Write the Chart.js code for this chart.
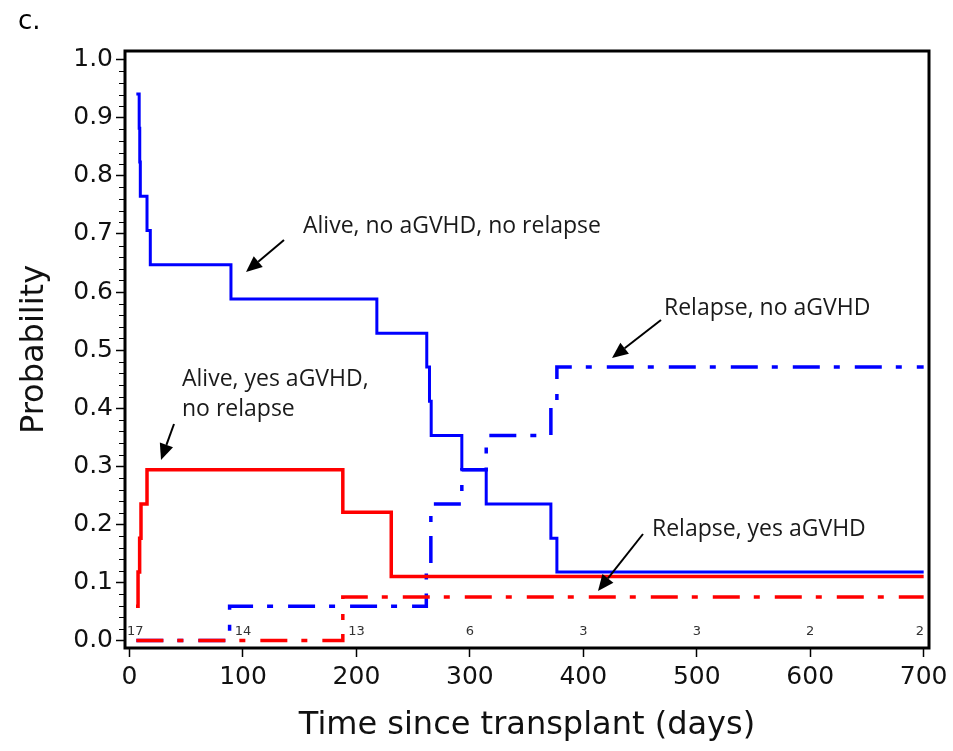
<!DOCTYPE html>
<html><head><meta charset="utf-8">
<script src="https://cdn.jsdelivr.net/npm/chart.js@4.4.1/dist/chart.umd.min.js"></script>
<style>html,body{margin:0;padding:0;background:#fff;}canvas{display:block}</style>
</head><body>
<canvas id="c" width="953" height="751"></canvas>
<script>
// ---------------- data ----------------
const panelLabel = 'c.';
const xTitle = 'Time since transplant (days)';
const yTitle = 'Probability';
const xTickValues = [0, 100, 200, 300, 400, 500, 600, 700];
const yTickValues = [0, 0.1, 0.2, 0.3, 0.4, 0.5, 0.6, 0.7, 0.8, 0.9, 1.0];
const atRiskCounts = [17, 14, 13, 6, 3, 3, 2, 2];

// Alive, no aGVHD, no relapse (blue solid)
const aliveNoGvhdTimes = [6, 8.5, 9, 9.5, 15.4, 18.3, 89.4, 218, 262, 264.4, 265.9, 292.9, 314.4, 371.4, 376.7, 700];
const aliveNoGvhdProb  = [0.941, 0.882, 0.824, 0.765, 0.706, 0.647, 0.588, 0.529, 0.471, 0.412, 0.353, 0.294, 0.235, 0.176, 0.118, 0.118];

// Alive, yes aGVHD, no relapse (red solid)
const aliveGvhdTimes = [5.7, 7.5, 8.9, 10.1, 15.4, 188, 230.7, 700];
const aliveGvhdProb  = [0.059, 0.118, 0.176, 0.235, 0.294, 0.221, 0.110, 0.110];

// Relapse, no aGVHD (blue dash-dot)
const relapseNoGvhdTimes = [6, 88.2, 261.6, 265.6, 292.9, 314.4, 371.4, 376.7, 700];
const relapseNoGvhdProb  = [0, 0.059, 0.118, 0.235, 0.294, 0.353, 0.412, 0.471, 0.471];

// Relapse, yes aGVHD (red dash-dot)
const relapseGvhdTimes = [6, 188, 700];
const relapseGvhdProb  = [0, 0.075, 0.075];

// annotation labels
const annotationTexts = [
  ['Alive, no aGVHD, no relapse'],
  ['Relapse, no aGVHD'],
  ['Alive, yes aGVHD,', 'no relapse'],
  ['Relapse, yes aGVHD']
];

// ---------------- layout / styles ----------------
const annotationLayout = [
  {tx: 303, ty: 226, lh: 30, ax0: 284, ay0: 240, ax1: 246, ay1: 272},
  {tx: 664, ty: 308, lh: 30, ax0: 661, ay0: 320, ax1: 612, ay1: 358},
  {tx: 182, ty: 379, lh: 30, ax0: 174, ay0: 424, ax1: 161, ay1: 460},
  {tx: 652, ty: 529, lh: 30, ax0: 643, ay0: 534, ax1: 598, ay1: 591}
];
const BLUE = '#0000ff', RED = '#ff0000';
const dashDot = [27, 14, 6, 15];

function pts(t, v) { return t.map((x, i) => ({x: x, y: v[i]})); }

const framePlugin = {
  id: 'frame',
  afterDatasetsDraw(chart) {
    const {ctx, chartArea: a, scales} = chart;
    ctx.save();
    // minor y ticks
    ctx.strokeStyle = '#000';
    ctx.lineWidth = 1;
    for (let i = 0; i <= 50; i++) {
      if (i % 5 === 0) continue;
      const y = Math.round(scales.y.getPixelForValue(i * 0.02)) + 0.5;
      ctx.beginPath();
      ctx.moveTo(a.left - 6, y);
      ctx.lineTo(a.left - 1, y);
      ctx.stroke();
    }
    // frame
    ctx.lineWidth = 3;
    ctx.strokeStyle = '#000';
    ctx.strokeRect(a.left, a.top, a.right - a.left, a.bottom - a.top);
    // numbers at risk
    ctx.font = '13px "DejaVu Sans"';
    ctx.fillStyle = '#333';
    ctx.textBaseline = 'middle';
    ctx.textAlign = 'center';
    xTickValues.forEach((v, i) => {
      const s = String(atRiskCounts[i]);
      const w = ctx.measureText(s).width;
      let x = scales.x.getPixelForValue(v);
      x = Math.max(a.left + 2 + w / 2, Math.min(a.right - 5 - w / 2, x));
      ctx.fillText(s, x, a.bottom - 16);
    });
    ctx.restore();
  },
  afterDraw(chart) {
    const {ctx} = chart;
    ctx.save();
    // panel label
    ctx.font = '26px "DejaVu Sans"';
    ctx.fillStyle = '#000';
    ctx.textBaseline = 'alphabetic';
    ctx.textAlign = 'left';
    ctx.fillText(panelLabel, 18, 29);
    // annotations
    ctx.font = '23px "Open Sans"';
    ctx.fillStyle = '#1a1a1a';
    ctx.textBaseline = 'middle';
    annotationTexts.forEach((lines, i) => {
      const L = annotationLayout[i];
      lines.forEach((t, j) => ctx.fillText(t, L.tx, L.ty + j * L.lh));
      // arrow
      const dx = L.ax1 - L.ax0, dy = L.ay1 - L.ay0;
      const len = Math.hypot(dx, dy), ux = dx / len, uy = dy / len;
      const hl = 16, hw = 7;
      const bx = L.ax1 - ux * hl, by = L.ay1 - uy * hl;
      ctx.strokeStyle = '#000';
      ctx.lineWidth = 2;
      ctx.beginPath();
      ctx.moveTo(L.ax0, L.ay0);
      ctx.lineTo(bx, by);
      ctx.stroke();
      ctx.beginPath();
      ctx.moveTo(L.ax1, L.ay1);
      ctx.lineTo(bx - uy * hw, by + ux * hw);
      ctx.lineTo(bx + uy * hw, by - ux * hw);
      ctx.closePath();
      ctx.fillStyle = '#000';
      ctx.fill();
      ctx.fillStyle = '#1a1a1a';
    });
    ctx.restore();
  }
};

const common = {stepped: 'before', pointRadius: 0, fill: false, tension: 0, borderCapStyle: 'butt', borderJoinStyle: 'miter'};

new Chart(document.getElementById('c'), {
  type: 'line',
  data: {
    datasets: [
      Object.assign({label: 'Alive, yes aGVHD, no relapse', data: pts(aliveGvhdTimes, aliveGvhdProb), borderColor: RED, borderWidth: 3.5}, common),
      Object.assign({label: 'Alive, no aGVHD, no relapse', data: pts(aliveNoGvhdTimes, aliveNoGvhdProb), borderColor: BLUE, borderWidth: 3}, common),
      Object.assign({label: 'Relapse, yes aGVHD', data: pts(relapseGvhdTimes, relapseGvhdProb), borderColor: RED, borderWidth: 3.5, borderDash: dashDot}, common),
      Object.assign({label: 'Relapse, no aGVHD', data: pts(relapseNoGvhdTimes, relapseNoGvhdProb), borderColor: BLUE, borderWidth: 3.5, borderDash: dashDot}, common)
    ]
  },
  options: {
    responsive: false,
    animation: false,
    devicePixelRatio: 1,
    layout: {padding: {top: 51, right: 24, left: 0, bottom: 0}},
    plugins: {legend: {display: false}, tooltip: {enabled: false}},
    scales: {
      x: {
        type: 'linear', min: -4, max: 704.7,
        afterBuildTicks: s => { s.ticks = xTickValues.map(v => ({value: v})); },
        afterFit: s => { s.height = 103; },
        grid: {drawOnChartArea: false, drawTicks: true, tickLength: 9, tickColor: '#000', tickWidth: 1.5},
        border: {display: false},
        ticks: {color: '#111', font: {family: 'DejaVu Sans', size: 25}, padding: 5, maxRotation: 0},
        title: {display: true, text: xTitle, color: '#111', font: {family: 'DejaVu Sans', size: 32}, padding: {top: 0, bottom: 6}}
      },
      y: {
        type: 'linear', min: -0.0129, max: 1.015,
        afterBuildTicks: s => { s.ticks = yTickValues.map(v => ({value: v})); },
        afterFit: s => { s.width = 125; },
        grid: {drawOnChartArea: false, drawTicks: true, tickLength: 9, tickColor: '#000', tickWidth: 1.5},
        border: {display: false},
        ticks: {color: '#111', font: {family: 'DejaVu Sans', size: 25}, padding: 3, callback: v => v.toFixed(1)},
        title: {display: true, text: yTitle, color: '#111', font: {family: 'DejaVu Sans', size: 32}, padding: {top: 15, bottom: 0}}
      }
    }
  },
  plugins: [framePlugin]
});
</script>
</body></html>
